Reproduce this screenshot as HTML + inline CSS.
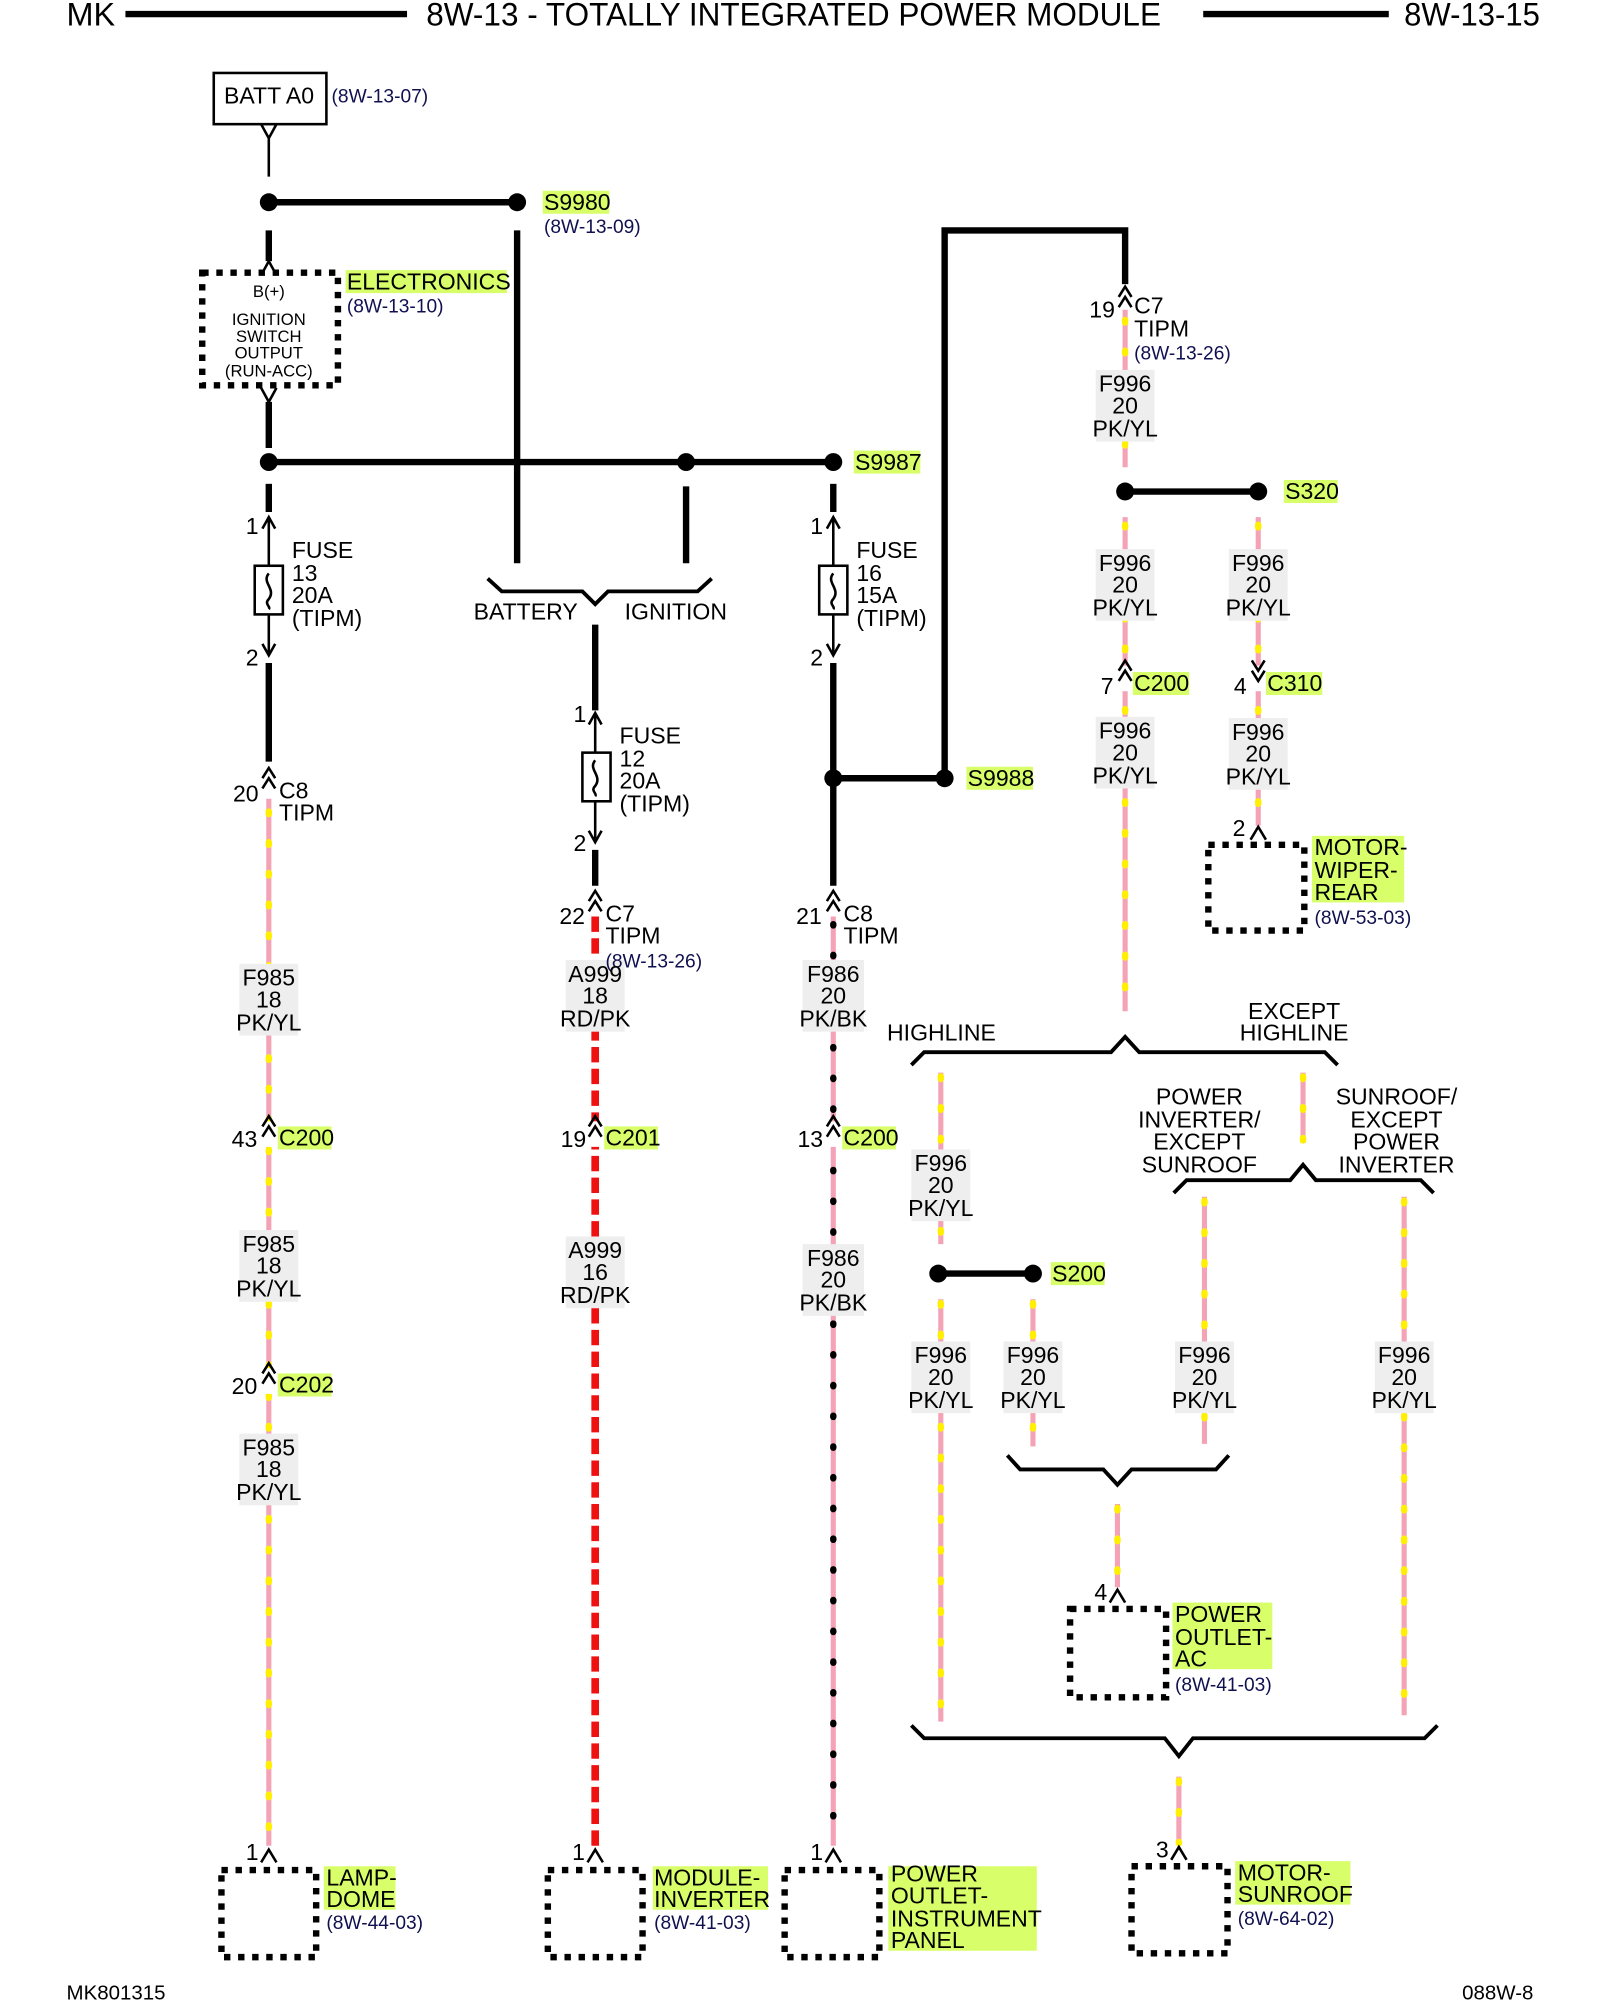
<!DOCTYPE html>
<html><head><meta charset="utf-8"><style>
html,body{margin:0;padding:0;background:#fff;}
svg{display:block;}
text{font-family:"Liberation Sans Narrow","Liberation Sans",sans-serif;fill:#000;}
.t{font-size:18px;}
.m{font-size:18px;text-anchor:middle;}
.s{font-size:13px;text-anchor:middle;}
.r{font-size:15px;fill:#101050;}
.h{font-size:25px;}
.pk{stroke:#f4a3b6;stroke-width:4;fill:none;}
.yl{stroke:#fff000;stroke-width:5;stroke-dasharray:2 22;stroke-linecap:round;fill:none;}
.bk{stroke:#000;stroke-width:5;stroke-dasharray:1 23;stroke-linecap:round;fill:none;}
.rd{stroke:#ee1111;stroke-width:6;stroke-dasharray:12 5;fill:none;}
.w{stroke:#000;stroke-width:5;fill:none;}
.thin{stroke:#000;stroke-width:2;fill:none;}
.br{stroke:#000;stroke-width:3;fill:none;}
.box{stroke:#000;stroke-width:5;stroke-dasharray:5 6;fill:none;}
.lb{fill:#eeeeee;}
.g{fill:#d8ff6a;}
</style></head><body>
<svg width="1600" height="2000" viewBox="0 0 1250 1562.5" xmlns="http://www.w3.org/2000/svg">
<!-- header -->
<text class="h" x="52" y="20" textLength="38" lengthAdjust="spacingAndGlyphs">MK</text>
<line x1="98" y1="11" x2="318" y2="11" stroke="#000" stroke-width="5"/>
<text class="h" x="333" y="20" textLength="574" lengthAdjust="spacingAndGlyphs">8W-13 - TOTALLY INTEGRATED POWER MODULE</text>
<line x1="940" y1="11" x2="1085" y2="11" stroke="#000" stroke-width="5"/>
<text class="h" x="1097" y="20" textLength="106" lengthAdjust="spacingAndGlyphs">8W-13-15</text>
<text class="t" x="52" y="1562" style="font-size:16px">MK801315</text>
<text class="t" x="1198" y="1562" style="font-size:16px;text-anchor:end">088W-8</text>

<!-- BATT -->
<rect x="167" y="57" width="88" height="40" fill="none" stroke="#000" stroke-width="2"/>
<text class="t" x="175" y="81">BATT A0</text>
<text class="r" x="259" y="80">(8W-13-07)</text>
<path class="thin" d="M204 97 L210 108 L216 97 M210 108 V138"/>
<line class="w" x1="210" y1="158" x2="404" y2="158"/>
<circle cx="210" cy="158" r="7"/><circle cx="404" cy="158" r="7"/>
<rect class="g" x="424" y="149" width="52" height="18"/>
<text class="t" x="425" y="164">S9980</text>
<text class="r" x="425" y="182">(8W-13-09)</text>
<line x1="210" y1="180" x2="210" y2="204" stroke="#000" stroke-width="5"/>
<path class="thin" d="M204 215 L210 204 L216 215"/>
<rect class="box" x="158" y="213" width="106" height="88"/>
<text class="s" x="210" y="232">B(+)</text>
<text class="s" x="210" y="254">IGNITION</text>
<text class="s" x="210" y="267">SWITCH</text>
<text class="s" x="210" y="280">OUTPUT</text>
<text class="s" x="210" y="294">(RUN-ACC)</text>
<rect class="g" x="270" y="211" width="126" height="18"/>
<text class="t" x="271" y="226">ELECTRONICS</text>
<text class="r" x="271" y="244">(8W-13-10)</text>
<path class="thin" d="M204 303 L210 314 L216 303"/>
<line x1="210" y1="314" x2="210" y2="350" stroke="#000" stroke-width="5"/>

<!-- bus -->
<line class="w" x1="210" y1="361" x2="651" y2="361"/>
<circle cx="210" cy="361" r="7"/><circle cx="536" cy="361" r="7"/><circle cx="651" cy="361" r="7"/>
<rect class="g" x="667" y="352" width="52" height="18"/>
<text class="t" x="668" y="367">S9987</text>
<line class="w" x1="404" y1="180" x2="404" y2="440"/>
<line class="w" x1="536" y1="380" x2="536" y2="440"/>
<path class="br" d="M381 452 L392 462 H455 L465 472 L475 462 H545 L556 452"/>
<text class="t" x="370" y="484">BATTERY</text>
<text class="t" x="488" y="484">IGNITION</text>

<!-- col 210 -->
<line class="w" x1="210" y1="378" x2="210" y2="400"/>
<text class="t" x="192" y="417">1</text>
<path class="thin" d="M205 413 L210 404 L215 413 M210 404 V442 M210 480 V512 M205 503 L210 512 L215 503"/>
<rect x="199" y="442" width="22" height="38" fill="none" stroke="#000" stroke-width="2"/>
<path class="thin" d="M210 448 C204 455,216 460,210 468 C206 472,212 474,210 476"/>
<text class="t" x="228" y="436">FUSE</text><text class="t" x="228" y="454">13</text><text class="t" x="228" y="471">20A</text><text class="t" x="228" y="489">(TIPM)</text>
<text class="t" x="192" y="520">2</text>
<line class="w" x1="210" y1="518" x2="210" y2="595"/>
<path class="thin" d="M205 608 L210 600 L215 608 M205 616 L210 608 L215 616"/>
<text class="t" x="182" y="626">20</text><text class="t" x="218" y="624">C8</text><text class="t" x="218" y="641">TIPM</text>
<line class="pk" x1="210" y1="624" x2="210" y2="1442"/>
<line class="yl" x1="210" y1="634" x2="210" y2="1442"/>
<rect class="lb" x="187" y="753" width="46" height="56"/>
<text class="m" x="210" y="770">F985</text><text class="m" x="210" y="787">18</text><text class="m" x="210" y="805">PK/YL</text>
<rect x="200" y="876" width="20" height="20" fill="#fff"/>
<path class="thin" d="M205 880 L210 872 L215 880 M205 888 L210 880 L215 888"/>
<text class="t" x="181" y="896">43</text><rect class="g" x="217" y="880" width="42" height="18"/><text class="t" x="218" y="895">C200</text>
<rect class="lb" x="187" y="961" width="46" height="56"/>
<text class="m" x="210" y="978">F985</text><text class="m" x="210" y="995">18</text><text class="m" x="210" y="1013">PK/YL</text>
<rect x="200" y="1069" width="20" height="20" fill="#fff"/>
<path class="thin" d="M205 1073 L210 1065 L215 1073 M205 1081 L210 1073 L215 1081"/>
<text class="t" x="181" y="1089">20</text><rect class="g" x="217" y="1073" width="42" height="18"/><text class="t" x="218" y="1088">C202</text>
<rect class="lb" x="187" y="1120" width="46" height="56"/>
<text class="m" x="210" y="1137">F985</text><text class="m" x="210" y="1154">18</text><text class="m" x="210" y="1172">PK/YL</text>
<text class="t" x="192" y="1453">1</text>
<path class="thin" d="M204 1455 L210 1445 L216 1455"/>
<rect class="box" x="173" y="1461" width="74" height="68"/>
<rect class="g" x="253" y="1458" width="56" height="34"/>
<text class="t" x="255" y="1473">LAMP-</text><text class="t" x="255" y="1490">DOME</text>
<text class="r" x="255" y="1507">(8W-44-03)</text>

<!-- col 465 -->
<line class="w" x1="465" y1="488" x2="465" y2="555"/>
<text class="t" x="448" y="564">1</text>
<path class="thin" d="M460 566 L465 557 L470 566 M465 557 V588 M465 626 V658 M460 649 L465 658 L470 649"/>
<rect x="455" y="588" width="22" height="38" fill="none" stroke="#000" stroke-width="2"/>
<path class="thin" d="M465 594 C459 601,471 606,465 614 C461 618,467 620,465 622"/>
<text class="t" x="484" y="581">FUSE</text><text class="t" x="484" y="599">12</text><text class="t" x="484" y="616">20A</text><text class="t" x="484" y="634">(TIPM)</text>
<text class="t" x="448" y="665">2</text>
<line class="w" x1="465" y1="664" x2="465" y2="692"/>
<path class="thin" d="M460 704 L465 696 L470 704 M460 712 L465 704 L470 712"/>
<text class="t" x="437" y="722">22</text><text class="t" x="473" y="720">C7</text><text class="t" x="473" y="737">TIPM</text>
<line class="rd" x1="465" y1="716" x2="465" y2="1442"/>
<rect class="lb" x="442" y="750" width="46" height="56"/>
<text class="r" x="473" y="756">(8W-13-26)</text>
<text class="m" x="465" y="767">A999</text><text class="m" x="465" y="784">18</text><text class="m" x="465" y="802">RD/PK</text>
<rect x="455" y="876" width="20" height="20" fill="#fff"/>
<path class="thin" d="M460 880 L465 872 L470 880 M460 888 L465 880 L470 888"/>
<text class="t" x="438" y="896">19</text><rect class="g" x="472" y="880" width="42" height="18"/><text class="t" x="473" y="895">C201</text>
<rect class="lb" x="442" y="966" width="46" height="56"/>
<text class="m" x="465" y="983">A999</text><text class="m" x="465" y="1000">16</text><text class="m" x="465" y="1018">RD/PK</text>
<text class="t" x="447" y="1453">1</text>
<path class="thin" d="M459 1455 L465 1445 L471 1455"/>
<rect class="box" x="428" y="1461" width="74" height="68"/>
<rect class="g" x="510" y="1458" width="90" height="34"/>
<text class="t" x="511" y="1473">MODULE-</text><text class="t" x="511" y="1490">INVERTER</text>
<text class="r" x="511" y="1507">(8W-41-03)</text>

<!-- col 651 -->
<line class="w" x1="651" y1="378" x2="651" y2="400"/>
<text class="t" x="633" y="417">1</text>
<path class="thin" d="M646 413 L651 404 L656 413 M651 404 V442 M651 480 V512 M646 503 L651 512 L656 503"/>
<rect x="640" y="442" width="22" height="38" fill="none" stroke="#000" stroke-width="2"/>
<path class="thin" d="M651 448 C645 455,657 460,651 468 C647 472,653 474,651 476"/>
<text class="t" x="669" y="436">FUSE</text><text class="t" x="669" y="454">16</text><text class="t" x="669" y="471">15A</text><text class="t" x="669" y="489">(TIPM)</text>
<text class="t" x="633" y="520">2</text>
<line class="w" x1="651" y1="518" x2="651" y2="692"/>
<line class="w" x1="651" y1="608" x2="738" y2="608"/>
<circle cx="651" cy="608" r="7"/><circle cx="738" cy="608" r="7"/>
<rect class="g" x="755" y="599" width="52" height="18"/>
<text class="t" x="756" y="614">S9988</text>
<path class="thin" d="M646 704 L651 696 L656 704 M646 712 L651 704 L656 712"/>
<text class="t" x="622" y="722">21</text><text class="t" x="659" y="720">C8</text><text class="t" x="659" y="737">TIPM</text>
<line class="pk" x1="651" y1="716" x2="651" y2="1442"/>
<line class="bk" x1="651" y1="722" x2="651" y2="1442"/>
<rect class="lb" x="627" y="750" width="48" height="56"/>
<text class="m" x="651" y="767">F986</text><text class="m" x="651" y="784">20</text><text class="m" x="651" y="802">PK/BK</text>
<rect x="641" y="876" width="20" height="20" fill="#fff"/>
<path class="thin" d="M646 880 L651 872 L656 880 M646 888 L651 880 L656 888"/>
<text class="t" x="623" y="896">13</text><rect class="g" x="658" y="880" width="42" height="18"/><text class="t" x="659" y="895">C200</text>
<rect class="lb" x="627" y="972" width="48" height="56"/>
<text class="m" x="651" y="989">F986</text><text class="m" x="651" y="1006">20</text><text class="m" x="651" y="1024">PK/BK</text>
<text class="t" x="633" y="1453">1</text>
<path class="thin" d="M645 1455 L651 1445 L657 1455"/>
<rect class="box" x="613" y="1461" width="74" height="68"/>
<rect class="g" x="694" y="1458" width="116" height="66"/>
<text class="t" x="696" y="1470">POWER</text><text class="t" x="696" y="1487">OUTLET-</text><text class="t" x="696" y="1505">INSTRUMENT</text><text class="t" x="696" y="1522">PANEL</text>

<!-- upper right -->
<path class="w" d="M738 608 V180 H879 V222"/>
<path class="thin" d="M874 232 L879 224 L884 232 M874 240 L879 232 L884 240"/>
<text class="t" x="851" y="248">19</text><text class="t" x="886" y="245">C7</text><text class="t" x="886" y="263">TIPM</text>
<text class="r" x="886" y="281">(8W-13-26)</text>
<line class="pk" x1="879" y1="242" x2="879" y2="365"/><line class="yl" x1="879" y1="250" x2="879" y2="365"/>
<rect class="lb" x="856" y="289" width="46" height="56"/>
<text class="m" x="879" y="306">F996</text><text class="m" x="879" y="323">20</text><text class="m" x="879" y="341">PK/YL</text>
<line class="w" x1="879" y1="384" x2="983" y2="384"/>
<circle cx="879" cy="384" r="7"/><circle cx="983" cy="384" r="7"/>
<rect class="g" x="1003" y="375" width="42" height="18"/>
<text class="t" x="1004" y="390">S320</text>
<line class="pk" x1="879" y1="404" x2="879" y2="790"/><line class="yl" x1="879" y1="410" x2="879" y2="790"/>
<rect class="lb" x="856" y="429" width="46" height="56"/>
<text class="m" x="879" y="446">F996</text><text class="m" x="879" y="463">20</text><text class="m" x="879" y="481">PK/YL</text>
<rect x="869" y="520" width="20" height="20" fill="#fff"/>
<path class="thin" d="M874 524 L879 516 L884 524 M874 532 L879 524 L884 532"/>
<text class="t" x="860" y="542">7</text><rect class="g" x="885" y="525" width="44" height="18"/><text class="t" x="886" y="540">C200</text>
<rect class="lb" x="856" y="560" width="46" height="56"/>
<text class="m" x="879" y="577">F996</text><text class="m" x="879" y="594">20</text><text class="m" x="879" y="612">PK/YL</text>
<line class="pk" x1="983" y1="404" x2="983" y2="645"/><line class="yl" x1="983" y1="410" x2="983" y2="645"/>
<rect class="lb" x="960" y="429" width="46" height="56"/>
<text class="m" x="983" y="446">F996</text><text class="m" x="983" y="463">20</text><text class="m" x="983" y="481">PK/YL</text>
<rect x="973" y="520" width="20" height="20" fill="#fff"/>
<path class="thin" d="M978 516 L983 524 L988 516 M978 524 L983 532 L988 524"/>
<text class="t" x="964" y="542">4</text><rect class="g" x="989" y="525" width="44" height="18"/><text class="t" x="990" y="540">C310</text>
<rect class="lb" x="960" y="561" width="46" height="56"/>
<text class="m" x="983" y="578">F996</text><text class="m" x="983" y="595">20</text><text class="m" x="983" y="613">PK/YL</text>
<text class="t" x="963" y="653">2</text>
<path class="thin" d="M977 656 L983 646 L989 656"/>
<rect class="box" x="944" y="660" width="75" height="67"/>
<rect class="g" x="1025" y="653" width="72" height="52"/>
<text class="t" x="1027" y="668">MOTOR-</text><text class="t" x="1027" y="686">WIPER-</text><text class="t" x="1027" y="703">REAR</text>
<text class="r" x="1027" y="722">(8W-53-03)</text>

<!-- highline brace -->
<path class="br" d="M712 832 L722 822 H868 L879 810 L890 822 H1035 L1045 832"/>
<text class="t" x="693" y="813">HIGHLINE</text>
<text class="m" x="1011" y="796">EXCEPT</text><text class="m" x="1011" y="813">HIGHLINE</text>
<line class="pk" x1="735" y1="838" x2="735" y2="972"/><line class="yl" x1="735" y1="841" x2="735" y2="972"/>
<rect class="lb" x="712" y="898" width="46" height="56"/>
<text class="m" x="735" y="915">F996</text><text class="m" x="735" y="932">20</text><text class="m" x="735" y="950">PK/YL</text>
<line class="w" x1="733" y1="995" x2="807" y2="995"/>
<circle cx="733" cy="995" r="7"/><circle cx="807" cy="995" r="7"/>
<rect class="g" x="821" y="986" width="42" height="18"/>
<text class="t" x="822" y="1001">S200</text>
<line class="pk" x1="735" y1="1015" x2="735" y2="1345"/><line class="yl" x1="735" y1="1018" x2="735" y2="1345"/>
<rect class="lb" x="712" y="1048" width="46" height="56"/>
<text class="m" x="735" y="1065">F996</text><text class="m" x="735" y="1082">20</text><text class="m" x="735" y="1100">PK/YL</text>
<line class="pk" x1="807" y1="1015" x2="807" y2="1130"/><line class="yl" x1="807" y1="1018" x2="807" y2="1130"/>
<rect class="lb" x="784" y="1048" width="46" height="56"/>
<text class="m" x="807" y="1065">F996</text><text class="m" x="807" y="1082">20</text><text class="m" x="807" y="1100">PK/YL</text>
<line class="pk" x1="1018" y1="838" x2="1018" y2="893"/><line class="yl" x1="1018" y1="841" x2="1018" y2="893"/>
<text class="m" x="937" y="863">POWER</text><text class="m" x="937" y="881">INVERTER/</text><text class="m" x="937" y="898">EXCEPT</text><text class="m" x="937" y="916">SUNROOF</text>
<text class="m" x="1091" y="863">SUNROOF/</text><text class="m" x="1091" y="881">EXCEPT</text><text class="m" x="1091" y="898">POWER</text><text class="m" x="1091" y="916">INVERTER</text>
<path class="br" d="M917 932 L927 922 H1008 L1018 910 L1028 922 H1110 L1120 932"/>
<line class="pk" x1="941" y1="935" x2="941" y2="1128"/><line class="yl" x1="941" y1="938" x2="941" y2="1128"/>
<rect class="lb" x="918" y="1048" width="46" height="56"/>
<text class="m" x="941" y="1065">F996</text><text class="m" x="941" y="1082">20</text><text class="m" x="941" y="1100">PK/YL</text>
<line class="pk" x1="1097" y1="935" x2="1097" y2="1340"/><line class="yl" x1="1097" y1="938" x2="1097" y2="1340"/>
<rect class="lb" x="1074" y="1048" width="46" height="56"/>
<text class="m" x="1097" y="1065">F996</text><text class="m" x="1097" y="1082">20</text><text class="m" x="1097" y="1100">PK/YL</text>
<path class="br" d="M787 1137 L797 1148 H862 L873 1160 L884 1148 H950 L960 1137"/>
<line class="pk" x1="873" y1="1175" x2="873" y2="1240"/><line class="yl" x1="873" y1="1178" x2="873" y2="1240"/>
<text class="t" x="855" y="1250">4</text>
<path class="thin" d="M867 1252 L873 1242 L879 1252"/>
<rect class="box" x="836" y="1257" width="75" height="69"/>
<rect class="g" x="916" y="1252" width="78" height="52"/>
<text class="t" x="918" y="1267">POWER</text><text class="t" x="918" y="1285">OUTLET-</text><text class="t" x="918" y="1302">AC</text>
<text class="r" x="918" y="1321">(8W-41-03)</text>
<path class="br" d="M712 1348 L722 1358 H910 L921 1372 L932 1358 H1113 L1123 1348"/>
<line class="pk" x1="921" y1="1388" x2="921" y2="1440"/><line class="yl" x1="921" y1="1391" x2="921" y2="1440"/>
<text class="t" x="903" y="1451">3</text>
<path class="thin" d="M915 1453 L921 1443 L927 1453"/>
<rect class="box" x="884" y="1458" width="75" height="68"/>
<rect class="g" x="965" y="1454" width="90" height="34"/>
<text class="t" x="967" y="1469">MOTOR-</text><text class="t" x="967" y="1486">SUNROOF</text>
<text class="r" x="967" y="1504">(8W-64-02)</text>
</svg>
</body></html>
